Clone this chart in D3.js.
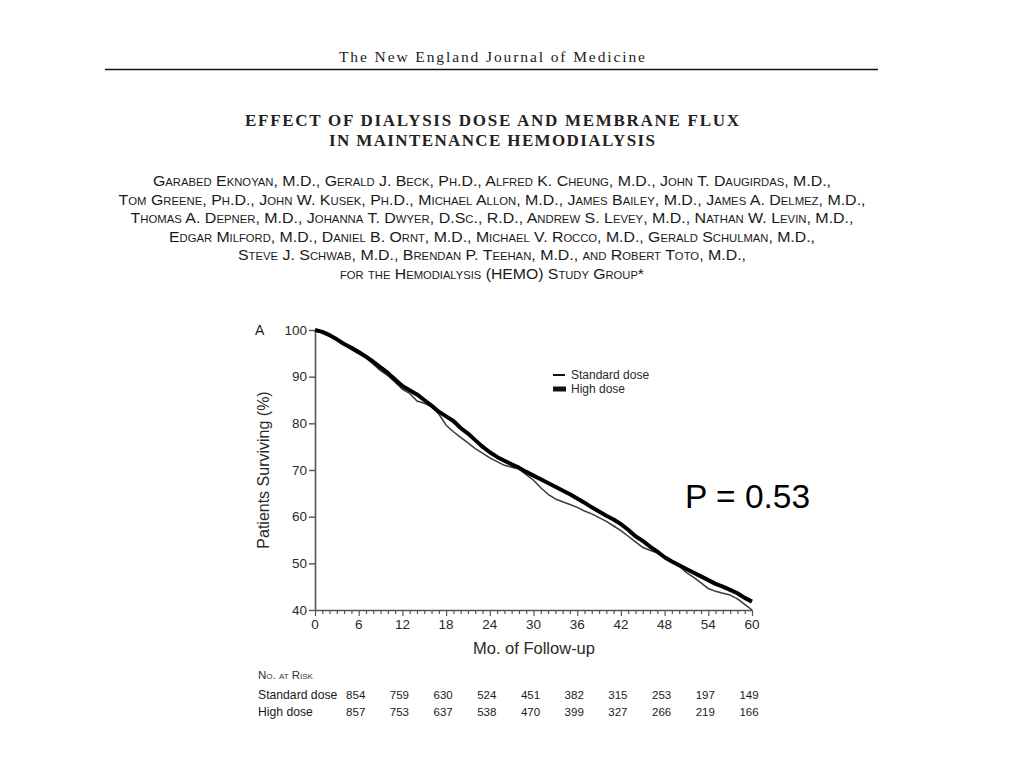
<!DOCTYPE html>
<html>
<head>
<meta charset="utf-8">
<script src="https://cdn.jsdelivr.net/npm/d3@7"></script>
<style>
  body { margin: 0; background: white; }
  svg { display: block; }
</style>
</head>
<body>
<svg id="chart"></svg>
<script>
// survival curves (percent surviving by month)
var months = d3.range(0, 61);
var standardDose = [100, 99.5, 98.7, 97.8, 96.8, 95.8, 94.9, 94.0, 92.7, 91.3,
  90.2, 88.8, 87.3, 86.4, 84.8, 84.3, 83.6, 82.0, 79.6, 78.2,
  77.0, 75.8, 74.6, 73.6, 72.6, 71.8, 71.0, 70.6, 70.2, 69.0,
  67.8, 66.2, 64.8, 63.8, 63.2, 62.6, 62.0, 61.2, 60.6, 59.8,
  59.0, 58.0, 57.0, 55.8, 54.6, 53.4, 52.8, 52.2, 51.4, 50.4,
  49.4, 48.0, 47.0, 45.8, 44.6, 44.0, 43.6, 43.2, 42.4, 41.2, 40.0];
var highDose = [100, 99.6, 98.9, 98.0, 97.0, 96.2, 95.3, 94.3, 93.2, 92.0,
  90.8, 89.4, 88.0, 87.1, 86.2, 85.0, 83.8, 82.5, 81.5, 80.5,
  79.0, 77.8, 76.4, 75.0, 73.8, 72.8, 72.0, 71.2, 70.5, 69.6,
  68.8, 68.0, 67.2, 66.4, 65.6, 64.8, 63.9, 63.0, 62.0, 61.1,
  60.2, 59.4, 58.4, 57.2, 55.8, 54.8, 53.6, 52.5, 51.3, 50.4,
  49.6, 48.8, 48.0, 47.2, 46.4, 45.6, 45.0, 44.3, 43.6, 42.6, 41.8];

var xTicks = [0, 6, 12, 18, 24, 30, 36, 42, 48, 54, 60];
var yTicks = [40, 50, 60, 70, 80, 90, 100];

var riskMonths = [6, 12, 18, 24, 30, 36, 42, 48, 54, 60];
var riskStandard = [854, 759, 630, 524, 451, 382, 315, 253, 197, 149];
var riskHigh = [857, 753, 637, 538, 470, 399, 327, 266, 219, 166];

var titleLines = ["EFFECT OF DIALYSIS DOSE AND MEMBRANE FLUX", "IN MAINTENANCE HEMODIALYSIS"];
var titleWidths = [494, 326];
var authorLines = [
  "Garabed Eknoyan, M.D., Gerald J. Beck, Ph.D., Alfred K. Cheung, M.D., John T. Daugirdas, M.D.,",
  "Tom Greene, Ph.D., John W. Kusek, Ph.D., Michael Allon, M.D., James Bailey, M.D., James A. Delmez, M.D.,",
  "Thomas A. Depner, M.D., Johanna T. Dwyer, D.Sc., R.D., Andrew S. Levey, M.D., Nathan W. Levin, M.D.,",
  "Edgar Milford, M.D., Daniel B. Ornt, M.D., Michael V. Rocco, M.D., Gerald Schulman, M.D.,",
  "Steve J. Schwab, M.D., Brendan P. Teehan, M.D., and Robert Toto, M.D.,",
  "for the Hemodialysis (HEMO) Study Group*"
];
var authorWidths = [678, 747, 723, 646, 508, 304];

var W = 1024, H = 768;
var sans = "'Liberation Sans', Arial, Helvetica, sans-serif";
var serif = "'Liberation Serif', 'Times New Roman', serif";

var svg = d3.select("#chart").attr("width", W).attr("height", H);
svg.append("rect").attr("width", W).attr("height", H).attr("fill", "white");

// journal header
svg.append("text")
  .attr("x", 492).attr("y", 62)
  .attr("text-anchor", "middle")
  .attr("font-family", serif)
  .attr("font-size", 15.5)
  .attr("textLength", 306)
  .attr("lengthAdjust", "spacing")
  .attr("fill", "#222")
  .text("The New England Journal of Medicine");

svg.append("line")
  .attr("x1", 105).attr("x2", 878)
  .attr("y1", 69.5).attr("y2", 69.5)
  .attr("stroke", "#111").attr("stroke-width", 1.6);

// article title
svg.selectAll(".title")
  .data(titleLines)
  .enter().append("text")
  .attr("class", "title")
  .attr("x", 492)
  .attr("y", (d, i) => 126 + i * 20)
  .attr("text-anchor", "middle")
  .attr("font-family", serif)
  .attr("font-weight", "bold")
  .attr("font-size", 17)
  .attr("textLength", (d, i) => titleWidths[i])
  .attr("lengthAdjust", "spacing")
  .attr("fill", "#222")
  .text(d => d);

// authors in small caps
svg.selectAll(".author")
  .data(authorLines)
  .enter().append("text")
  .attr("class", "author")
  .attr("x", 492)
  .attr("y", (d, i) => 186 + i * 18.6)
  .attr("text-anchor", "middle")
  .attr("font-family", sans)
  .attr("font-size", 15.5)
  .style("font-variant", "small-caps")
  .attr("textLength", (d, i) => authorWidths[i])
  .attr("lengthAdjust", "spacingAndGlyphs")
  .attr("fill", "#1a1a1a")
  .text(d => d);

// ---- survival plot
var x = d3.scaleLinear().domain([0, 60]).range([315, 752]);
var y = d3.scaleLinear().domain([40, 100]).range([610, 330]);

var axisColor = "#555";

var gx = svg.append("g")
  .attr("transform", `translate(0,${y(40)})`)
  .call(d3.axisBottom(x).tickValues(months).tickSize(4).tickFormat("").tickSizeOuter(0));
gx.select(".domain").attr("stroke", axisColor).attr("stroke-width", 1.6);
gx.selectAll(".tick line").attr("stroke", axisColor).attr("stroke-width", 1.2)
  .attr("y2", d => d % 6 == 0 ? 6 : 4);

svg.append("g")
  .selectAll("text")
  .data(xTicks)
  .enter().append("text")
  .attr("x", d => x(d))
  .attr("y", y(40) + 19)
  .attr("text-anchor", "middle")
  .attr("font-family", sans)
  .attr("font-size", 13.5)
  .attr("fill", "#2a2a2a")
  .text(d => d);

var gy = svg.append("g")
  .attr("transform", `translate(${x(0)},0)`)
  .call(d3.axisLeft(y).tickValues(yTicks).tickSize(6).tickSizeOuter(0).tickPadding(2));
gy.select(".domain").attr("stroke", axisColor).attr("stroke-width", 1.6);
gy.selectAll(".tick line").attr("stroke", axisColor).attr("stroke-width", 1.4);
gy.selectAll(".tick text")
  .attr("font-family", sans)
  .attr("font-size", 13.5)
  .attr("fill", "#2a2a2a");

svg.append("text")
  .attr("transform", `translate(269,${(y(40) + y(100)) / 2}) rotate(-90)`)
  .attr("text-anchor", "middle")
  .attr("font-family", sans)
  .attr("font-size", 16)
  .attr("fill", "#2a2a2a")
  .text("Patients Surviving (%)");

svg.append("text")
  .attr("x", 534).attr("y", 654)
  .attr("text-anchor", "middle")
  .attr("font-family", sans)
  .attr("font-size", 16.5)
  .attr("fill", "#2a2a2a")
  .text("Mo. of Follow-up");

svg.append("text")
  .attr("x", 255).attr("y", 335)
  .attr("font-family", sans)
  .attr("font-size", 14)
  .attr("fill", "#1a1a1a")
  .text("A");

var line = d3.line()
  .x((d, i) => x(months[i]))
  .y(d => y(d));

svg.append("path")
  .datum(standardDose)
  .attr("fill", "none")
  .attr("stroke", "#3a3a3a")
  .attr("stroke-width", 1.5)
  .attr("stroke-linejoin", "round")
  .attr("d", line);

svg.append("path")
  .datum(highDose)
  .attr("fill", "none")
  .attr("stroke", "#000")
  .attr("stroke-width", 4)
  .attr("stroke-linejoin", "round")
  .attr("d", line);

// legend
var legend = svg.append("g").attr("transform", "translate(553,375)");
legend.append("line").attr("x1", 0).attr("x2", 12).attr("y1", 0).attr("y2", 0)
  .attr("stroke", "#111").attr("stroke-width", 2);
legend.append("line").attr("x1", 0).attr("x2", 13).attr("y1", 14).attr("y2", 14)
  .attr("stroke", "#111").attr("stroke-width", 5);
legend.selectAll("text")
  .data(["Standard dose", "High dose"])
  .enter().append("text")
  .attr("x", 18)
  .attr("y", (d, i) => 4 + i * 14)
  .attr("font-family", sans)
  .attr("font-size", 12)
  .attr("fill", "#2a2a2a")
  .text(d => d);

svg.append("text")
  .attr("x", 685).attr("y", 508)
  .attr("font-family", sans)
  .attr("font-size", 33.5)
  .attr("fill", "#000")
  .text("P = 0.53");

// number at risk table
svg.append("text")
  .attr("x", 258).attr("y", 679)
  .attr("font-family", sans)
  .attr("font-size", 11.5)
  .style("font-variant", "small-caps")
  .attr("fill", "#333")
  .text("No. at Risk");

var rows = [["Standard dose", riskStandard], ["High dose", riskHigh]];
rows.forEach((r, ri) => {
  var ry = 699 + ri * 16.5;
  svg.append("text")
    .attr("x", 258).attr("y", ry)
    .attr("font-family", sans)
    .attr("font-size", 12.2)
    .attr("fill", "#1a1a1a")
    .text(r[0]);
  svg.append("g").selectAll("text")
    .data(r[1])
    .enter().append("text")
    .attr("x", (d, i) => x(riskMonths[i]) - 3)
    .attr("y", ry)
    .attr("text-anchor", "middle")
    .attr("font-family", sans)
    .attr("font-size", 11.5)
    .attr("fill", "#1a1a1a")
    .text(d => d);
});
</script>
</body>
</html>
